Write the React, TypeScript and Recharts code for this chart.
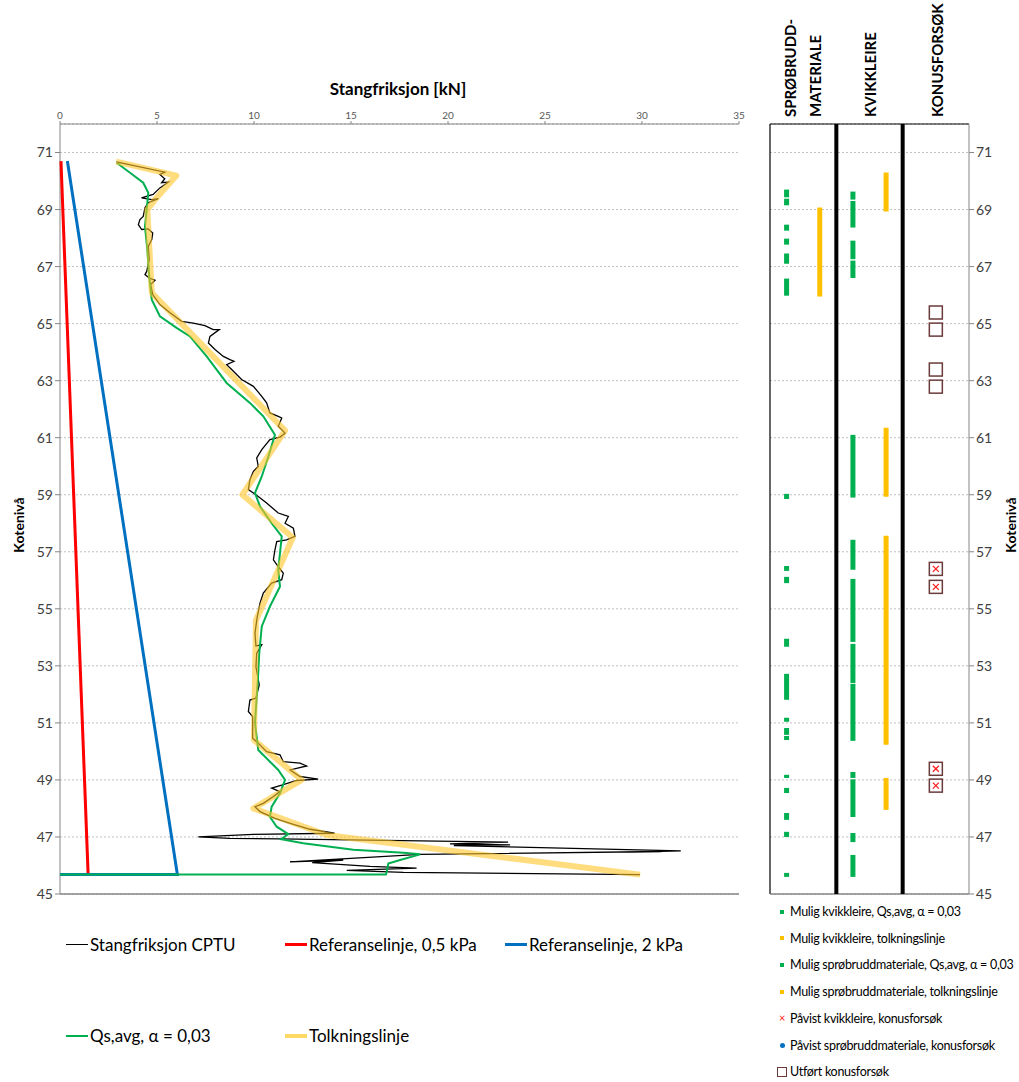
import React from "react";
import { ScatterChart, Scatter, XAxis, YAxis, CartesianGrid, ReferenceLine } from "recharts";

type Pt = [number, number];

// main chart: Stangfriksjon [kN] vs kotenivå
const xTicks = [0, 5, 10, 15, 20, 25, 30, 35];
const xGrid = [5, 10, 15, 20, 25, 30];
const yTicks = [45, 47, 49, 51, 53, 55, 57, 59, 61, 63, 65, 67, 69, 71];

const cptu: Pt[] = [
  [2.9, 70.67], [5.4, 70.31], [5.15, 70.23], [5.4, 70.08], [5.24, 69.94], [5.58, 69.96], [5.15, 69.76],
  [4.8, 69.53], [4.2, 69.41], [4.73, 69.35], [5.07, 69.38], [4.55, 69.24], [4.38, 69.06], [4.29, 68.76],
  [4.12, 68.65], [4.04, 68.47], [4.21, 68.3], [4.55, 68.32], [4.78, 68.18], [4.73, 67.95], [4.55, 67.71],
  [4.6, 67.25], [4.47, 66.83], [4.38, 66.72], [4.6, 66.6], [4.9, 66.52], [4.67, 66.37], [4.78, 66.02],
  [5.15, 65.67], [5.67, 65.38], [6.27, 65.08], [6.87, 65.02], [7.47, 64.93], [7.9, 64.79], [8.21, 64.79],
  [7.73, 64.55], [7.65, 64.32], [7.99, 64.09], [8.42, 63.85], [8.76, 63.74], [8.97, 63.68], [8.59, 63.56],
  [8.85, 63.39], [9.36, 63.04], [9.97, 62.8], [10.4, 62.45], [10.65, 62.22], [10.82, 61.87], [11.25, 61.75],
  [11.43, 61.69], [11.25, 61.4], [11.6, 61.16], [11.34, 61.02], [10.82, 60.93], [10.4, 60.58], [10.14, 60.29],
  [10.22, 59.99], [9.97, 59.82], [9.79, 59.53], [9.71, 59.18], [9.97, 59.06], [10.22, 58.94], [10.65, 58.71],
  [11.25, 58.36], [11.77, 58.24], [11.6, 58.0], [12.03, 57.83], [12.11, 57.54], [11.68, 57.42], [11.17, 57.36],
  [11.08, 57.07], [11.0, 56.72], [11.25, 56.48], [11.51, 56.25], [11.43, 56.02], [10.91, 55.9], [10.48, 55.55],
  [10.31, 55.2], [10.17, 54.73], [10.05, 54.15], [10.1, 53.7], [10.4, 53.74], [10.14, 53.44], [10.1, 52.97],
  [10.27, 52.33], [10.1, 51.87], [9.79, 51.8], [9.71, 51.4], [9.93, 51.22], [9.93, 50.46], [10.22, 50.29],
  [10.65, 49.99], [11.34, 49.88], [11.51, 49.64], [12.37, 49.59], [12.71, 49.49], [11.86, 49.35], [12.37, 49.12],
  [13.31, 49.03], [12.2, 48.98], [11.43, 48.82], [10.91, 48.71], [11.34, 48.59], [11.0, 48.42], [10.48, 48.18],
  [10.05, 48.06], [10.31, 47.89], [11.08, 47.65], [11.86, 47.48], [12.89, 47.27], [14.15, 47.13], [9.97, 47.09],
  [7.13, 47.0], [8.76, 46.95], [11.3, 46.93], [23.1, 46.82], [20.1, 46.76], [23.2, 46.72], [20.3, 46.7],
  [32.0, 46.51], [29.4, 46.47], [31.0, 46.49], [18.56, 46.39], [11.86, 46.13], [14.6, 46.19], [13.0, 46.1],
  [15.98, 45.97], [18.38, 45.91], [14.78, 45.83], [17.7, 45.76], [29.9, 45.68],
];

const qsAvg: Pt[] = [
  [2.92, 70.64], [3.61, 70.29], [4.29, 69.94], [4.55, 69.59], [4.47, 69.0], [4.38, 68.41], [4.5, 67.6],
  [4.6, 66.66], [4.73, 65.84], [5.15, 65.26], [6.01, 64.85], [6.7, 64.55], [7.56, 63.85], [8.59, 62.92],
  [9.79, 62.22], [10.48, 61.75], [11.08, 61.1], [10.74, 60.34], [10.4, 59.64], [10.05, 59.06], [10.31, 58.59],
  [10.91, 58.0], [11.43, 57.54], [11.34, 56.95], [11.25, 56.37], [11.34, 55.78], [10.82, 55.08], [10.4, 54.38],
  [10.27, 53.44], [10.2, 52.5], [10.05, 51.0], [10.22, 50.05], [11.25, 49.35], [11.6, 49.0], [11.34, 48.53],
  [10.91, 48.06], [10.82, 47.71], [11.17, 47.36], [11.77, 47.1], [11.4, 46.92], [12.54, 46.78], [15.12, 46.55],
  [17.7, 46.45], [18.56, 46.39], [17.53, 46.19], [16.92, 46.07], [16.84, 45.78], [16.8, 45.68], [0, 45.68],
];

const tolkning: Pt[] = [
  [2.9, 70.68], [6.0, 70.19], [4.9, 69.35], [4.5, 69.0], [4.73, 66.08], [11.6, 61.25], [9.4, 59.0],
  [12.0, 57.5], [10.1, 54.6], [10.0, 50.4], [12.46, 49.0], [9.97, 48.0], [13.75, 47.07], [29.9, 45.68],
];

const ref05: Pt[] = [[0.05, 70.7], [1.45, 45.68]];
const ref2: Pt[] = [[0.38, 70.7], [6.05, 45.68], [0, 45.68]];

// right panel: column positions and depth intervals [top, bottom]
const colSproQs = 1;
const colSproTolk = 3;
const colKvikkQs = 5;
const colKvikkTolk = 7;
const colKonus = 10;

const sproQs: Pt[] = [
  [69.7, 69.43], [69.38, 69.15], [68.47, 68.26], [67.98, 67.77], [67.46, 67.1], [66.58, 65.98], [59.03, 58.85],
  [56.5, 56.33], [56.12, 55.9], [53.95, 53.67], [52.72, 51.81], [51.18, 51.04], [50.82, 50.58], [50.54, 50.4],
  [49.18, 49.07], [48.72, 48.54], [47.84, 47.6], [47.18, 47.0], [45.74, 45.6],
];
const sproTolk: Pt[] = [[69.07, 65.95]];
const kvikkQs: Pt[] = [
  [69.63, 69.35], [69.3, 68.37], [67.91, 67.26], [67.21, 66.6], [61.1, 58.9], [57.42, 56.37], [56.05, 53.84],
  [53.77, 52.4], [52.37, 50.37], [49.28, 49.07], [49.02, 47.7], [47.14, 46.82], [46.37, 45.6],
];
const kvikkTolk: Pt[] = [[70.3, 68.93], [61.35, 58.93], [57.56, 50.23], [49.07, 47.95]];
const konusUtfort = [65.39, 64.79, 63.39, 62.79];
const konusKvikk = [56.4, 55.77, 49.39, 48.8];

const font = "Lato, 'Open Sans', sans-serif";

const toXY = (pts: Pt[]) => pts.map(([x, y]) => ({ x, y }));
const noShape = () => <g />;

const SquareMark = (props: any) => {
  const { cx, cy, payload } = props;
  return (
    <g>
      <rect x={cx - 6.5} y={cy - 6.5} width={13} height={13} fill="#fff" stroke="#6B3A3A" strokeWidth={1.5} />
      {payload.cross && (
        <g stroke="#FF2020" strokeWidth={1.3}>
          <line x1={cx - 3} y1={cy - 3} x2={cx + 3} y2={cy + 3} />
          <line x1={cx - 3} y1={cy + 3} x2={cx + 3} y2={cy - 3} />
        </g>
      )}
    </g>
  );
};

function segments(list: Pt[], col: number, color: string, key: string) {
  return list.map(([top, bottom], i) => (
    <Scatter
      key={key + i}
      data={[{ x: col, y: top }, { x: col, y: bottom }]}
      line={{ stroke: color, strokeWidth: 5 }}
      shape={noShape}
      isAnimationActive={false}
    />
  ));
}

const gridX = (p: any) => {
  const s = p && p.xAxis && p.xAxis.scale;
  return typeof s === "function" ? xGrid.map((v) => s(v)) : [];
};

const legendMain = [
  { label: "Stangfriksjon CPTU", color: "#000", w: 1.5, left: 66, top: 934 },
  { label: "Referanselinje, 0,5 kPa", color: "#FF0000", w: 3, left: 285, top: 934 },
  { label: "Referanselinje, 2 kPa", color: "#0070C0", w: 3, left: 505, top: 934 },
  { label: "Qs,avg, α = 0,03", color: "#00B050", w: 2, left: 66, top: 1025 },
  { label: "Tolkningslinje", color: "#FFD966", w: 4, left: 285, top: 1025 },
];

const legendRight = [
  { label: "Mulig kvikkleire, Qs,avg, α = 0,03", mark: "sq", color: "#00B050" },
  { label: "Mulig kvikkleire, tolkningslinje", mark: "sq", color: "#FFC000" },
  { label: "Mulig sprøbruddmateriale, Qs,avg, α = 0,03", mark: "sq", color: "#00B050" },
  { label: "Mulig sprøbruddmateriale, tolkningslinje", mark: "sq", color: "#FFC000" },
  { label: "Påvist kvikkleire, konusforsøk", mark: "x", color: "#FF2020" },
  { label: "Påvist sprøbruddmateriale, konusforsøk", mark: "dot", color: "#0070C0" },
  { label: "Utført konusforsøk", mark: "box", color: "#6B3A3A" },
];

const headers = [
  { text: "SPRØBRUDD-", x: 790 },
  { text: "MATERIALE", x: 815 },
  { text: "KVIKKLEIRE", x: 870 },
  { text: "KONUSFORSØK", x: 937 },
];

export default function App() {
  const tick = { fontSize: 14, fill: "#404040", fontFamily: font };
  return (
    <div style={{ position: "absolute", left: 0, top: 0, width: 1019, height: 1082, background: "#fff", fontFamily: font }}>
      <div style={{ position: "absolute", left: 0, top: 0 }}>
        <ScatterChart width={760} height={912} margin={{ top: 94, right: 21, bottom: 18, left: 0 }}>
          <CartesianGrid stroke="#BFBFBF" strokeDasharray="2 2" verticalCoordinatesGenerator={gridX} />
          <XAxis
            type="number"
            dataKey="x"
            orientation="top"
            domain={[0, 35]}
            ticks={xTicks}
            height={30}
            stroke="#868686"
            tickSize={3}
            tick={{ fontSize: 10, fill: "#595959", fontFamily: font }}
          />
          <YAxis
            type="number"
            dataKey="y"
            domain={[45, 72]}
            ticks={yTicks}
            width={60}
            stroke="#868686"
            tickSize={5}
            tick={tick}
            interval={0}
          />
          <ReferenceLine y={45} stroke="#868686" strokeWidth={1.5} />
          <Scatter data={toXY(cptu)} line={{ stroke: "#000", strokeWidth: 1.3 }} shape={noShape} isAnimationActive={false} />
          <Scatter data={toXY(ref05)} line={{ stroke: "#FF0000", strokeWidth: 3 }} shape={noShape} isAnimationActive={false} />
          <Scatter data={toXY(ref2)} line={{ stroke: "#0070C0", strokeWidth: 3 }} shape={noShape} isAnimationActive={false} />
          <Scatter data={toXY(qsAvg)} line={{ stroke: "#00B050", strokeWidth: 2 }} shape={noShape} isAnimationActive={false} />
          <Scatter
            data={toXY(tolkning)}
            line={{ stroke: "#FFC526", strokeWidth: 6, strokeOpacity: 0.6, strokeLinejoin: "round" }}
            shape={noShape}
            isAnimationActive={false}
          />
        </ScatterChart>
      </div>

      <div style={{ position: "absolute", left: 398, top: 78, transform: "translateX(-50%)", fontSize: 17, fontWeight: 700, whiteSpace: "nowrap" }}>
        Stangfriksjon [kN]
      </div>
      <div style={{ position: "absolute", left: 18, top: 525, transform: "translate(-50%,-50%) rotate(-90deg)", fontSize: 14, fontWeight: 700 }}>
        Kotenivå
      </div>

      <div style={{ position: "absolute", left: 760, top: 0 }}>
        <ScatterChart width={259} height={912} margin={{ top: 124, right: 0, bottom: 18, left: 10 }}>
          <CartesianGrid stroke="#BFBFBF" strokeDasharray="2 2" vertical={false} />
          <XAxis type="number" dataKey="x" domain={[0, 12]} hide />
          <YAxis
            type="number"
            dataKey="y"
            orientation="right"
            domain={[45, 72]}
            ticks={yTicks}
            width={50}
            stroke="#868686"
            tickSize={5}
            tick={tick}
            interval={0}
          />
          <ReferenceLine x={0} stroke="#000" strokeWidth={1.2} />
          <ReferenceLine y={72} stroke="#000" strokeWidth={1.2} />
          <ReferenceLine y={45} stroke="#868686" strokeWidth={1.5} />
          <ReferenceLine x={4} stroke="#000" strokeWidth={4} />
          <ReferenceLine x={8} stroke="#000" strokeWidth={4} />
          {segments(sproQs, colSproQs, "#00B050", "sq")}
          {segments(sproTolk, colSproTolk, "#FFC000", "st")}
          {segments(kvikkQs, colKvikkQs, "#00B050", "kq")}
          {segments(kvikkTolk, colKvikkTolk, "#FFC000", "kt")}
          <Scatter
            data={konusUtfort.map((y) => ({ x: colKonus, y, cross: false }))}
            shape={SquareMark}
            isAnimationActive={false}
          />
          <Scatter
            data={konusKvikk.map((y) => ({ x: colKonus, y, cross: true }))}
            shape={SquareMark}
            isAnimationActive={false}
          />
        </ScatterChart>
      </div>

      {headers.map((h) => (
        <div
          key={h.text}
          style={{
            position: "absolute",
            left: h.x,
            top: 117,
            transformOrigin: "0 0",
            transform: "rotate(-90deg) translateY(-50%)",
            fontSize: 15,
            fontWeight: 700,
            whiteSpace: "nowrap",
            lineHeight: "16px",
          }}
        >
          {h.text}
        </div>
      ))}
      <div style={{ position: "absolute", left: 1010, top: 525, transform: "translate(-50%,-50%) rotate(-90deg)", fontSize: 14, fontWeight: 700 }}>
        Kotenivå
      </div>

      {legendMain.map((l) => (
        <div key={l.label} style={{ position: "absolute", left: l.left, top: l.top, display: "flex", alignItems: "center", fontSize: 17, whiteSpace: "nowrap", color: "#000" }}>
          <span style={{ display: "inline-block", width: 22, height: l.w, background: l.color, marginRight: 2 }} />
          {l.label}
        </div>
      ))}

      {legendRight.map((l, i) => (
        <div key={l.label} style={{ position: "absolute", left: 776, top: 904 + i * 26.7, display: "flex", alignItems: "center", fontSize: 12.5, whiteSpace: "nowrap", color: "#000", letterSpacing: -0.3 }}>
          <span style={{ display: "inline-flex", width: 12, justifyContent: "center", alignItems: "center", marginRight: 2 }}>
            {l.mark === "sq" && <span style={{ width: 4, height: 4, background: l.color }} />}
            {l.mark === "dot" && <span style={{ width: 5, height: 5, borderRadius: 3, background: l.color }} />}
            {l.mark === "x" && <span style={{ color: l.color, fontSize: 11, lineHeight: "10px" }}>×</span>}
            {l.mark === "box" && <span style={{ width: 10, height: 10, border: "1.5px solid " + l.color, boxSizing: "border-box" }} />}
          </span>
          {l.label}
        </div>
      ))}
    </div>
  );
}
